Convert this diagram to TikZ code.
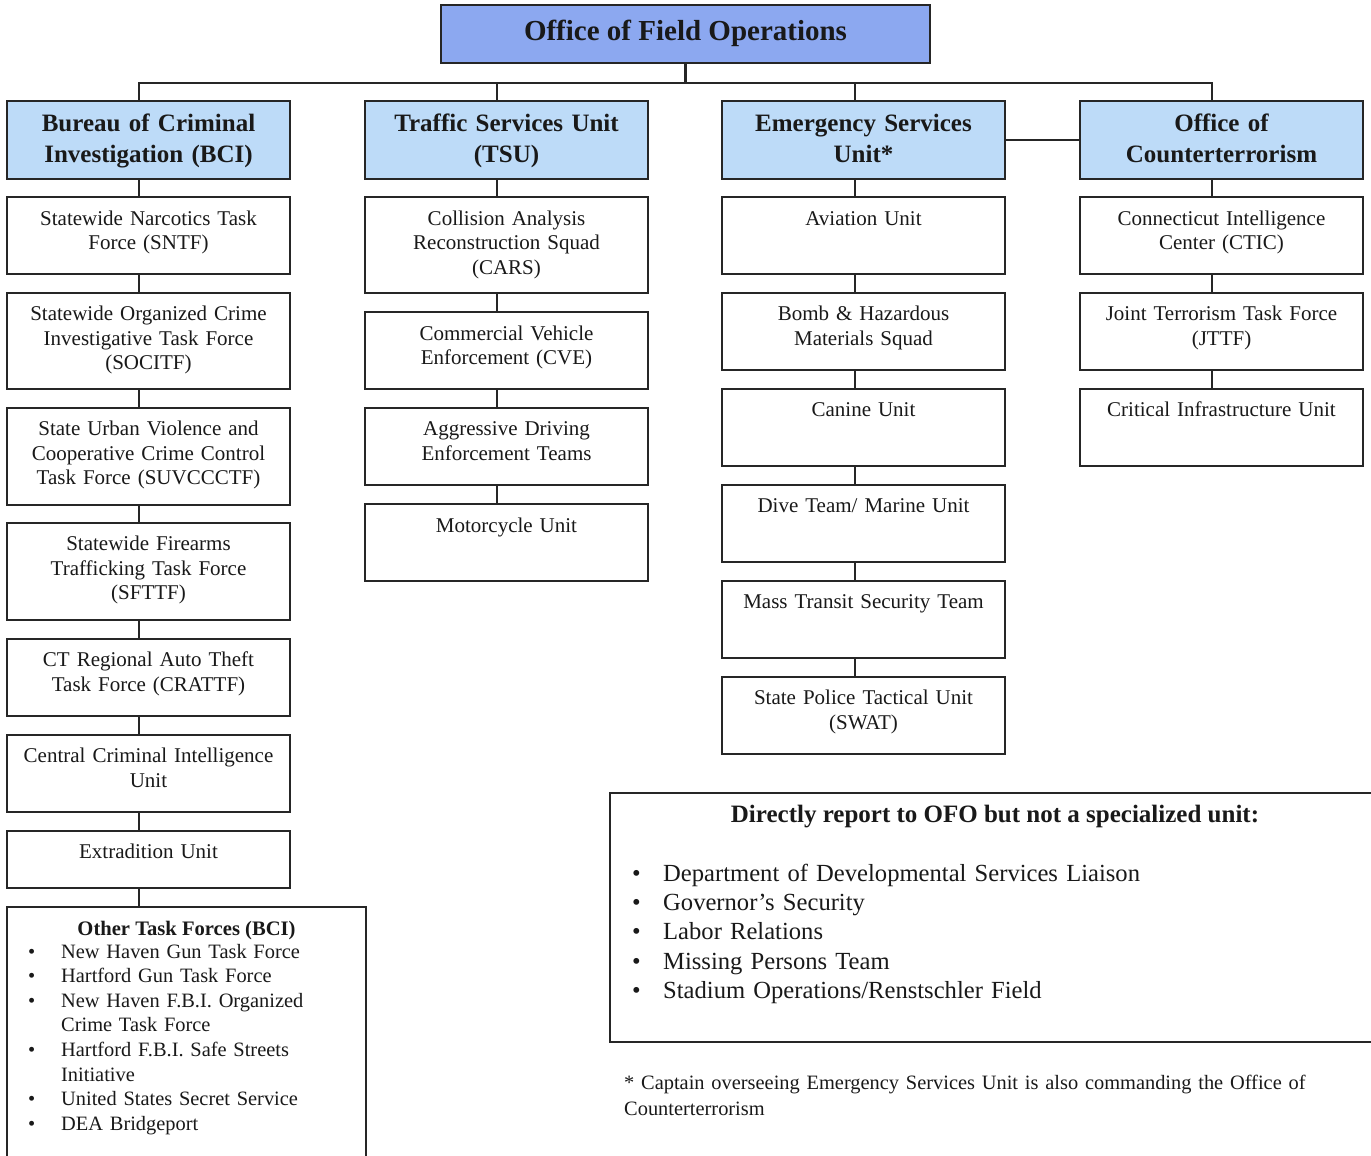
\documentclass[tikz,border=0pt]{standalone}
\usepackage{fontspec}
\setmainfont{Liberation Serif}
\definecolor{ofoblue}{RGB}{140,168,240}
\definecolor{hdrblue}{RGB}{189,219,248}
\definecolor{linec}{RGB}{38,38,38}
\definecolor{txtc}{RGB}{25,25,25}
\newcommand{\orgbox}[6]{\node[#2, minimum width={#5-#3}, minimum height={#6-#4}] (#1) at ({(#3+#5)/2},{(#4+#6)/2}) {};}
\newcommand{\bul}{\makebox[33pt][l]{•}}
\newcommand{\bulr}{\makebox[31pt][l]{•}}
\begin{document}
\begin{tikzpicture}[x=1pt,y=-1pt,
  boxbase/.style={draw=linec, line width=2.6pt, inner sep=0pt, outer sep=0pt, rectangle},
  wbox/.style={boxbase, fill=white},
  hbox/.style={boxbase, fill=hdrblue},
  tbox/.style={boxbase, fill=ofoblue},
  conn/.style={draw=linec, line width=2.6pt},
  body/.style={font=\fontsize{21}{24.5}\selectfont, text=txtc, align=center, text width=280pt, inner sep=0pt, anchor=base},
  hdr/.style={font=\fontsize{25}{32}\selectfont\bfseries, text=txtc, align=center, text width=280pt, inner sep=0pt, anchor=base},
]
\path[use as bounding box, clip] (0,0) rectangle (1371,1156);
\fill[white] (0,0) rectangle (1371,1156);

% top
\orgbox{ofo}{tbox}{441}{5}{930}{63}
\node[font=\fontsize{29}{34}\selectfont\bfseries, text=txtc, inner sep=0pt, anchor=base] (ofo-t) at (685.5,41) {Office of Field Operations};

% headers
\orgbox{bci}{hbox}{7}{101}{290}{179}
\orgbox{tsu}{hbox}{365}{101}{648}{179}
\orgbox{esu}{hbox}{722}{101}{1005}{179}
\orgbox{oct}{hbox}{1080}{101}{1363}{179}
\node[hdr] (bci-t) at (148.5,131) {Bureau of Criminal\\Investigation (BCI)};
\node[hdr] (tsu-t) at (506.5,131) {Traffic Services Unit\\(TSU)};
\node[hdr] (esu-t) at (863.5,131) {Emergency Services\\Unit*};
\node[hdr] (oct-t) at (1221.5,131) {Office of\\Counterterrorism};

% column 1
\orgbox{sntf}{wbox}{7}{197}{290}{274}
\orgbox{socitf}{wbox}{7}{293}{290}{389}
\orgbox{suv}{wbox}{7}{408}{290}{505}
\orgbox{sfttf}{wbox}{7}{523}{290}{620}
\orgbox{crattf}{wbox}{7}{639}{290}{716}
\orgbox{cciu}{wbox}{7}{735}{290}{812}
\orgbox{extr}{wbox}{7}{831}{290}{888}
\orgbox{otf}{wbox}{7}{907}{366}{1175}
\node[body] (sntf-t) at (148.5,225) {Statewide Narcotics Task\\Force (SNTF)};
\node[body] (socitf-t) at (148.5,320.5) {Statewide Organized Crime\\Investigative Task Force\\(SOCITF)};
\node[body] (suv-t) at (148.5,435.5) {State Urban Violence and\\Cooperative Crime Control\\Task Force (SUVCCCTF)};
\node[body] (sfttf-t) at (148.5,550.5) {Statewide Firearms\\Trafficking Task Force\\(SFTTF)};
\node[body] (crattf-t) at (148.5,666.5) {CT Regional Auto Theft\\Task Force (CRATTF)};
\node[body] (cciu-t) at (148.5,762.5) {Central Criminal Intelligence\\Unit};
\node[body] (extr-t) at (148.5,858) {Extradition Unit};
\node[font=\fontsize{20.6}{24.6}\selectfont\bfseries, text=txtc, inner sep=0pt, anchor=base] (otf-t) at (186.5,935) {Other Task Forces (BCI)};
\node[font=\fontsize{20.4}{24.6}\selectfont, text=txtc, inner sep=0pt, align=left, text width=330pt, anchor=base west] (otf-l) at (28,958)
 {\bul New Haven Gun Task Force\\
  \bul Hartford Gun Task Force\\
  \bul New Haven F.B.I. Organized\\
  \hspace*{33pt}Crime Task Force\\
  \bul Hartford F.B.I. Safe Streets\\
  \hspace*{33pt}Initiative\\
  \bul United States Secret Service\\
  \bul DEA Bridgeport};

% column 2
\orgbox{cars}{wbox}{365}{197}{648}{293}
\orgbox{cve}{wbox}{365}{312}{648}{389}
\orgbox{adet}{wbox}{365}{408}{648}{485}
\orgbox{moto}{wbox}{365}{504}{648}{581}
\node[body] (cars-t) at (506.5,225) {Collision Analysis\\Reconstruction Squad\\(CARS)};
\node[body] (cve-t) at (506.5,340) {Commercial Vehicle\\Enforcement (CVE)};
\node[body] (adet-t) at (506.5,435.5) {Aggressive Driving\\Enforcement Teams};
\node[body] (moto-t) at (506.5,532) {Motorcycle Unit};

% column 3
\orgbox{avi}{wbox}{722}{197}{1005}{274}
\orgbox{bomb}{wbox}{722}{293}{1005}{370}
\orgbox{k9}{wbox}{722}{389}{1005}{466}
\orgbox{dive}{wbox}{722}{485}{1005}{562}
\orgbox{mass}{wbox}{722}{581}{1005}{658}
\orgbox{swat}{wbox}{722}{677}{1005}{754}
\node[body] (avi-t) at (863.5,225) {Aviation Unit};
\node[body] (bomb-t) at (863.5,320.5) {Bomb \& Hazardous\\Materials Squad};
\node[body] (k9-t) at (863.5,416.5) {Canine Unit};
\node[body] (dive-t) at (863.5,512.5) {Dive Team/ Marine Unit};
\node[body] (mass-t) at (863.5,608.5) {Mass Transit Security Team};
\node[body] (swat-t) at (863.5,704.5) {State Police Tactical Unit\\(SWAT)};

% column 4
\orgbox{ctic}{wbox}{1080}{197}{1363}{274}
\orgbox{jttf}{wbox}{1080}{293}{1363}{370}
\orgbox{ciu}{wbox}{1080}{389}{1363}{466}
\node[body] (ctic-t) at (1221.5,225) {Connecticut Intelligence\\Center (CTIC)};
\node[body] (jttf-t) at (1221.5,320.5) {Joint Terrorism Task Force\\(JTTF)};
\node[body] (ciu-t) at (1221.5,416.5) {Critical Infrastructure Unit};

% bottom right box
\orgbox{dir}{wbox}{610}{793}{1390}{1042}
\node[font=\fontsize{25}{30}\selectfont\bfseries, text=txtc, inner sep=0pt, anchor=base] (dir-t) at (995,822) {Directly report to OFO but not a specialized unit:};
\node[font=\fontsize{24.6}{29.2}\selectfont, text=txtc, inner sep=0pt, align=left, text width=700pt, anchor=base west] (dir-l) at (632,881.5)
 {\bulr Department of Developmental Services Liaison\\
  \bulr Governor’s Security\\
  \bulr Labor Relations\\
  \bulr Missing Persons Team\\
  \bulr Stadium Operations/Renstschler Field};

% footnote
\node[font=\fontsize{20.4}{26}\selectfont, text=txtc, inner sep=0pt, align=left, text width=740pt, anchor=base west] (note) at (624,1089)
 {* Captain overseeing Emergency Services Unit is also commanding the Office of\\Counterterrorism};

% connectors
\coordinate (c1) at (139,83);
\coordinate (c2) at (497,83);
\coordinate (c3) at (855,83);
\coordinate (c4) at (1212,83);
\draw[conn] (ofo.south) -- (ofo.south |- c1);
\draw[conn] (c1 |- bci.north) -- (c1) -- (c4) -- (c4 |- oct.north);
\draw[conn] (c2) -- (c2 |- tsu.north);
\draw[conn] (c3) -- (c3 |- esu.north);
\draw[conn] (esu.east) -- (oct.west);
\foreach \a/\b in {bci/sntf, sntf/socitf, socitf/suv, suv/sfttf, sfttf/crattf, crattf/cciu, cciu/extr, extr/otf}
  \draw[conn] (c1 |- \a.south) -- (c1 |- \b.north);
\foreach \a/\b in {tsu/cars, cars/cve, cve/adet, adet/moto}
  \draw[conn] (c2 |- \a.south) -- (c2 |- \b.north);
\foreach \a/\b in {esu/avi, avi/bomb, bomb/k9, k9/dive, dive/mass, mass/swat}
  \draw[conn] (c3 |- \a.south) -- (c3 |- \b.north);
\foreach \a/\b in {oct/ctic, ctic/jttf, jttf/ciu}
  \draw[conn] (c4 |- \a.south) -- (c4 |- \b.north);
\end{tikzpicture}
\end{document}
